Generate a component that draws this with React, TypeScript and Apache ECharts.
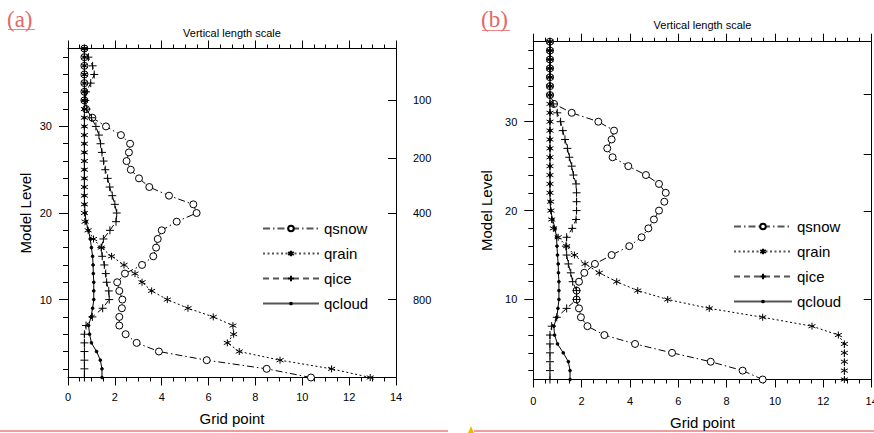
import React, { useEffect, useRef } from "react";
import * as echarts from "echarts";

// Model levels (y values)
const levels = [1, 2, 3, 4, 5, 6, 7, 8, 9, 10, 11, 12, 13, 14, 15, 16, 17, 18, 19, 20, 21, 22, 23, 24, 25, 26, 27, 28, 29, 30, 31, 32, 33, 34, 35, 36, 37, 38, 39];
const seriesNames = ["qsnow", "qrain", "qice", "qcloud"];

// Panel (a) grid-point values, level 1 .. 39
const qsnowA = [10.37, 8.48, 5.92, 3.88, 2.93, 2.46, 2.19, 2.19, 2.3, 2.32, 2.19, 2.1, 2.43, 3.16, 3.64, 3.76, 3.83, 4.0, 4.64, 5.49, 5.35, 4.31, 3.47, 3.03, 2.68, 2.5, 2.6, 2.65, 2.26, 1.62, 1.04, 0.77, 0.7, 0.7, 0.7, 0.7, 0.7, 0.7, 0.7];
const qrainA = [12.9, 11.25, 9.05, 7.31, 6.8, 7.07, 7.04, 6.2, 5.12, 4.24, 3.57, 3.16, 2.86, 2.39, 1.86, 1.42, 1.09, 0.86, 0.73, 0.7, 0.7, 0.7, 0.7, 0.7, 0.7, 0.7, 0.7, 0.7, 0.7, 0.7, 0.7, 0.7, 0.7, 0.7, 0.7, 0.7, 0.7, 0.7, 0.7];
const qiceA = [0.7, 0.7, 0.7, 0.7, 0.7, 0.7, 0.77, 1.04, 1.48, 1.76, 1.74, 1.65, 1.61, 1.55, 1.46, 1.42, 1.51, 1.79, 2.05, 2.08, 2.0, 1.89, 1.78, 1.69, 1.59, 1.52, 1.45, 1.39, 1.32, 1.19, 1.0, 0.8, 0.74, 0.77, 0.97, 1.12, 1.05, 0.87, 0.7];
const qcloudA = [1.45, 1.45, 1.38, 1.22, 1.0, 0.92, 0.88, 0.98, 1.05, 1.1, 1.1, 1.1, 1.08, 1.07, 1.05, 1.0, 0.95, 0.87, 0.77, 0.73, 0.71, 0.7, 0.7, 0.7, 0.7, 0.7, 0.7, 0.7, 0.7, 0.7, 0.7, 0.7, 0.7, 0.7, 0.7, 0.7, 0.7, 0.7, 0.7];

// Panel (b) grid-point values, level 1 .. 39
const qsnowB = [9.49, 8.66, 7.34, 5.74, 4.21, 2.94, 2.24, 1.97, 1.89, 1.79, 1.79, 1.89, 2.11, 2.55, 3.24, 3.97, 4.48, 4.76, 4.99, 5.2, 5.42, 5.48, 5.2, 4.66, 3.93, 3.28, 3.06, 3.24, 3.34, 2.69, 1.59, 0.86, 0.69, 0.69, 0.69, 0.69, 0.69, 0.69, 0.69];
const qrainB = [12.87, 12.87, 12.87, 12.87, 12.87, 12.62, 11.53, 9.49, 7.28, 5.56, 4.32, 3.45, 2.73, 2.14, 1.7, 1.38, 1.03, 0.83, 0.76, 0.73, 0.72, 0.69, 0.69, 0.69, 0.69, 0.69, 0.69, 0.69, 0.69, 0.69, 0.69, 0.69, 0.69, 0.69, 0.69, 0.69, 0.69, 0.69, 0.69];
const qiceB = [0.69, 0.69, 0.69, 0.69, 0.69, 0.69, 0.76, 0.97, 1.38, 1.79, 1.79, 1.63, 1.55, 1.45, 1.38, 1.35, 1.38, 1.61, 1.77, 1.79, 1.79, 1.79, 1.77, 1.66, 1.59, 1.49, 1.41, 1.31, 1.22, 1.13, 0.99, 0.82, 0.69, 0.69, 0.69, 0.69, 0.69, 0.69, 0.69];
const qcloudB = [1.52, 1.52, 1.45, 1.24, 1.0, 0.88, 0.85, 0.97, 1.02, 1.06, 1.06, 1.06, 1.04, 1.03, 1.0, 0.98, 0.96, 0.9, 0.8, 0.72, 0.69, 0.69, 0.69, 0.69, 0.69, 0.69, 0.69, 0.69, 0.69, 0.69, 0.69, 0.69, 0.69, 0.69, 0.69, 0.69, 0.69, 0.69, 0.69];

// Axis ticks / labels
const levelLabelTicks = [10, 20, 30];
const levelMinorTicks = [2, 4, 6, 8, 10, 12, 14, 16, 18, 20, 22, 24, 26, 28, 30, 32, 34, 36, 38];
const lengthScaleLabels = ["100", "200", "400", "800"];
const lengthScaleLevels = [33.05, 26.3, 19.95, 10.0];

const FONT = "'Liberation Sans', Arial, Helvetica, sans-serif";
const STAR = "path://M5,0L5,10M0.67,2.5L9.33,7.5M0.67,7.5L9.33,2.5";
const PLUS = "path://M5,0L5,10M0,5L10,5";
const RING = "path://M0,5A5,5 0 1,0 10,5A5,5 0 1,0 0,5Z";
const DOT = "path://M0,0M10,10M3.5,5A1.5,1.5 0 1,0 6.5,5A1.5,1.5 0 1,0 3.5,5Z";

const styles: Record<string, any> = {
  qsnow: { symbol: RING, symbolSize: 7, dash: [7, 3, 1.5, 3], fill: "#fff" },
  qrain: { symbol: STAR, symbolSize: 7, dash: [2, 2.5], fill: "#000" },
  qice: { symbol: PLUS, symbolSize: 8, dash: [6, 4], fill: "#000" },
  qcloud: { symbol: DOT, symbolSize: 9, dash: "solid", fill: "#000" },
};

type Panel = {
  grid: { left: number; top: number; width: number; height: number };
  data: number[][];
  labelMargin: number;
  nameGapBottom: number;
  nameGapTop: number;
  nameGapLeft: number;
  legendLeft: number;
  legendTop: number;
  legendItemWidth: number;
  showRightLabels: boolean;
};

const panels: Panel[] = [
  {
    grid: { left: 68, top: 48.5, width: 328, height: 329 },
    data: [qsnowA, qrainA, qiceA, qcloudA],
    labelMargin: 14,
    nameGapBottom: 33,
    nameGapTop: 10,
    nameGapLeft: 35,
    legendLeft: 257,
    legendTop: 216,
    legendItemWidth: 56,
    showRightLabels: true,
  },
  {
    grid: { left: 533.3, top: 41.7, width: 338.4, height: 337.8 },
    data: [qsnowB, qrainB, qiceB, qcloudB],
    labelMargin: 16,
    nameGapBottom: 35,
    nameGapTop: 11,
    nameGapLeft: 39,
    legendLeft: 728,
    legendTop: 214,
    legendItemWidth: 58,
    showRightLabels: false,
  },
];

function buildOption() {
  const black = "#000";
  const grid: any[] = [];
  const xAxis: any[] = [];
  const yAxis: any[] = [];
  const series: any[] = [];
  const legend: any[] = [];

  panels.forEach((p, gi) => {
    grid.push({ ...p.grid, containLabel: false, outerBoundsMode: "none" });
    const xBase = {
      gridIndex: gi,
      type: "value",
      min: 0,
      max: 14,
      interval: 2,
      axisLine: { show: true, onZero: false, lineStyle: { color: black, width: 1 } },
      axisTick: { show: true, length: 8, lineStyle: { color: black, width: 1 } },
      minorTick: { show: true, splitNumber: 4, length: 4, lineStyle: { color: black, width: 1 } },
      splitLine: { show: false },
      minorSplitLine: { show: false },
    };
    const xBottom = xAxis.length;
    xAxis.push({
      ...xBase,
      position: "bottom",
      axisLabel: { color: black, fontSize: 11, fontFamily: FONT, margin: p.labelMargin },
      name: "Grid point",
      nameLocation: "middle",
      nameGap: p.nameGapBottom,
      nameTextStyle: { color: black, fontSize: 15, fontFamily: FONT },
    });
    xAxis.push({
      ...xBase,
      position: "top",
      axisLabel: { show: false },
      name: "Vertical length scale",
      nameLocation: "middle",
      nameGap: p.nameGapTop,
      nameTextStyle: { color: black, fontSize: 11, fontFamily: FONT },
    });

    const yBase = {
      gridIndex: gi,
      type: "value",
      min: 1,
      max: 39,
      splitLine: { show: false },
    };
    const yMain = yAxis.length;
    yAxis.push({
      ...yBase,
      position: "left",
      axisLine: { show: true, onZero: false, lineStyle: { color: black, width: 1 } },
      axisTick: { show: true, length: 9, customValues: levelLabelTicks, lineStyle: { color: black } },
      axisLabel: { color: black, fontSize: 11, fontFamily: FONT, margin: 16, customValues: levelLabelTicks },
      name: "Model Level",
      nameLocation: "middle",
      nameGap: p.nameGapLeft,
      nameTextStyle: { color: black, fontSize: 15, fontFamily: FONT },
    });
    yAxis.push({
      ...yBase,
      position: "left",
      axisLine: { show: false },
      axisTick: { show: true, length: 5, customValues: levelMinorTicks, lineStyle: { color: black } },
      axisLabel: { show: false },
    });
    yAxis.push({
      ...yBase,
      position: "right",
      axisLine: { show: true, onZero: false, lineStyle: { color: black, width: 1 } },
      axisTick: { show: true, inside: true, length: 8, customValues: lengthScaleLevels, lineStyle: { color: black } },
      axisLabel: {
        show: p.showRightLabels,
        color: black,
        fontSize: 11,
        fontFamily: FONT,
        margin: 17,
        customValues: lengthScaleLevels,
        formatter: (v: number) => {
          const i = lengthScaleLevels.findIndex((l) => Math.abs(l - v) < 0.01);
          return i >= 0 ? lengthScaleLabels[i] : "";
        },
      },
    });

    seriesNames.forEach((name, si) => {
      const st = styles[name];
      series.push({
        type: "line",
        name,
        xAxisIndex: xBottom,
        yAxisIndex: yMain,
        data: p.data[si].map((v, i) => [v, levels[i]]),
        symbol: st.symbol,
        symbolSize: st.symbolSize,
        showAllSymbol: true,
        clip: false,
        lineStyle: { color: black, width: 1, type: st.dash },
        itemStyle: { color: st.fill, borderColor: black, borderWidth: 1 },
        emphasis: { disabled: true },
        z: 3 + si,
      });
    });

    legend.push({
      orient: "vertical",
      left: p.legendLeft,
      top: p.legendTop,
      itemWidth: p.legendItemWidth,
      itemHeight: 7,
      itemGap: 10,
      selectedMode: false,
      data: seriesNames,
      lineStyle: { color: "#555" },
      textStyle: { color: black, fontSize: 15, fontFamily: FONT },
    });
  });

  const red = "#e3393c";
  const labelRed = "#e06a6a";
  const graphic: any[] = [
    { type: "text", left: 7, top: 8, style: { text: "(a)", fill: labelRed, font: "23px 'Liberation Serif', 'Times New Roman', serif" } },
    { type: "line", shape: { x1: 8, y1: 29.5, x2: 35, y2: 29.5 }, style: { stroke: labelRed, lineWidth: 0.8 } },
    { type: "text", left: 481, top: 8, style: { text: "(b)", fill: labelRed, font: "23px 'Liberation Serif', 'Times New Roman', serif" } },
    { type: "line", shape: { x1: 482, y1: 30.5, x2: 510, y2: 30.5 }, style: { stroke: labelRed, lineWidth: 0.8 } },
    { type: "line", shape: { x1: 0, y1: 431, x2: 448, y2: 431 }, style: { stroke: red, lineWidth: 1.2 } },
    { type: "line", shape: { x1: 474, y1: 431, x2: 874, y2: 431 }, style: { stroke: red, lineWidth: 1.2 } },
    { type: "polygon", shape: { points: [[471, 426], [468, 433], [474, 433]] }, style: { fill: "#f2b705" } },
  ];

  return {
    animation: false,
    backgroundColor: "#fff",
    textStyle: { fontFamily: FONT },
    grid,
    xAxis,
    yAxis,
    series,
    legend,
    graphic,
  };
}

export default function App() {
  const ref = useRef<HTMLDivElement>(null);
  useEffect(() => {
    if (!ref.current) return;
    const chart = echarts.init(ref.current, undefined, { renderer: "svg" });
    chart.setOption(buildOption() as any);
    return () => chart.dispose();
  }, []);
  return <div ref={ref} style={{ position: "absolute", left: 0, top: 0, width: 874, height: 433 }} />;
}
